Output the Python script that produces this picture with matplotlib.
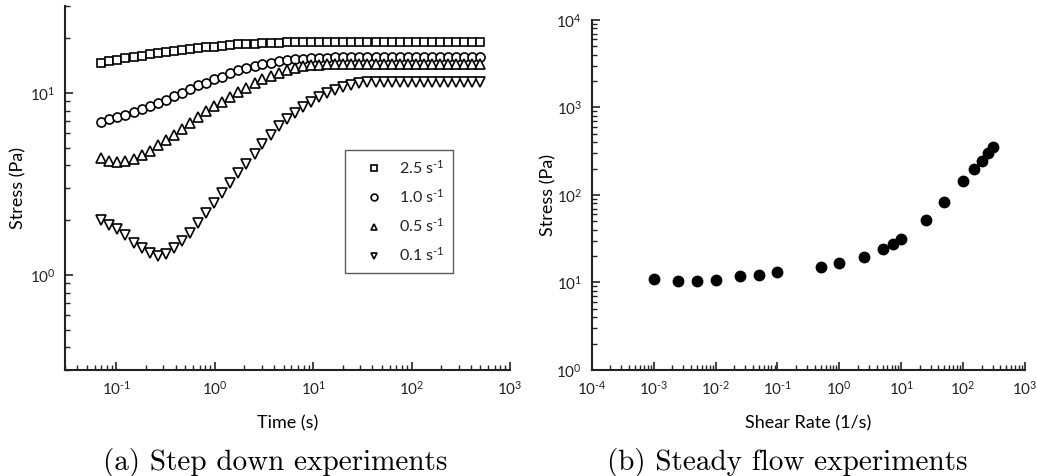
import matplotlib
matplotlib.use("Agg")
import numpy as np
import matplotlib.pyplot as plt
from matplotlib.ticker import LogLocator, NullFormatter, FixedLocator, FixedFormatter

plt.rcParams['font.family'] = ['Lato', 'DejaVu Sans']
plt.rcParams['mathtext.fontset'] = 'custom'
plt.rcParams['mathtext.rm'] = 'Lato'
plt.rcParams['mathtext.it'] = 'Lato:italic'
plt.rcParams['text.color'] = '#222222'

# step-down test: time (s) and stress (Pa) for each final shear rate
time_s = [0.0700, 0.0845, 0.102, 0.123, 0.149, 0.180, 0.217, 0.262, 0.317, 0.383,
          0.462, 0.558, 0.675, 0.815, 0.984, 1.19, 1.44, 1.73, 2.09, 2.53,
          3.05, 3.69, 4.46, 5.38, 6.50, 7.85, 9.48, 11.5, 13.8, 16.7,
          20.2, 24.4, 29.4, 35.6, 43.0, 51.9, 62.7, 75.7, 91.4, 110,
          133, 161, 195, 235, 284, 343, 414, 500]

stress_25 = [14.6, 14.9, 15.2, 15.5, 15.8, 16.0, 16.3, 16.6, 16.8, 17.1,
             17.3, 17.5, 17.7, 17.9, 18.0, 18.2, 18.3, 18.5, 18.6, 18.7,
             18.8, 18.9, 18.9, 19.0, 19.0, 19.0, 19.0, 19.1, 19.1, 19.1,
             19.1, 19.1, 19.1, 19.1, 19.1, 19.1, 19.1, 19.1, 19.1, 19.1,
             19.1, 19.1, 19.1, 19.1, 19.1, 19.1, 19.1, 19.1]

stress_10 = [6.95, 7.2, 7.4, 7.6, 7.9, 8.2, 8.5, 8.8, 9.2, 9.6,
             10.0, 10.5, 11.0, 11.4, 11.9, 12.3, 12.8, 13.3, 13.7, 14.1,
             14.4, 14.7, 14.9, 15.1, 15.3, 15.4, 15.5, 15.6, 15.6, 15.7,
             15.7, 15.7, 15.7, 15.7, 15.7, 15.7, 15.7, 15.7, 15.7, 15.7,
             15.7, 15.7, 15.7, 15.7, 15.7, 15.7, 15.7, 15.7]

stress_05 = [4.38, 4.25, 4.20, 4.23, 4.33, 4.55, 4.82, 5.16, 5.52, 5.90,
             6.35, 6.85, 7.4, 7.95, 8.5, 8.9, 9.5, 10.1, 10.7, 11.3,
             11.9, 12.4, 12.8, 13.3, 13.7, 14.0, 14.2, 14.3, 14.4, 14.4,
             14.5, 14.5, 14.5, 14.5, 14.5, 14.5, 14.5, 14.5, 14.5, 14.5,
             14.5, 14.5, 14.5, 14.5, 14.5, 14.5, 14.5, 14.5]

stress_01 = [2.00, 1.89, 1.78, 1.65, 1.50, 1.40, 1.32, 1.27, 1.30, 1.41,
             1.54, 1.70, 1.92, 2.18, 2.47, 2.82, 3.22, 3.64, 4.05, 4.63,
             5.25, 5.86, 6.55, 7.17, 7.75, 8.34, 8.94, 9.52, 10.0, 10.45,
             10.8, 11.08, 11.33, 11.45, 11.5, 11.5, 11.5, 11.5, 11.5, 11.5,
             11.5, 11.5, 11.5, 11.5, 11.5, 11.5, 11.5, 11.5]

step_labels = [r'2.5 s$^{\text{-}1}$', r'1.0 s$^{\text{-}1}$',
               r'0.5 s$^{\text{-}1}$', r'0.1 s$^{\text{-}1}$']
step_markers = ['s', 'o', '^', 'v']

# steady flow curve
shear_rate = [0.001, 0.0025, 0.005, 0.01, 0.025, 0.05, 0.1, 0.5, 1.0, 2.5,
              5, 7.5, 10, 25, 50, 100, 150, 200, 250, 300]
flow_stress = [10.9, 10.4, 10.4, 10.8, 11.8, 12.2, 13.1, 15.0, 16.6, 19.6,
               23.9, 27.8, 31.4, 51.8, 83.2, 145, 198, 247, 302, 357]


def pow_label(e):
    if e < 0:
        return r'$10^{\text{-}%d}$' % -e
    return r'$10^{%d}$' % e


def style_axes(ax):
    for side in ['top', 'right']:
        ax.spines[side].set_visible(False)
    for side in ['left', 'bottom']:
        ax.spines[side].set_linewidth(1.5)
        ax.spines[side].set_color('#222222')
    ax.tick_params(which='major', direction='in', length=6, width=1.2,
                   labelsize=11, colors='#222222', pad=7)
    ax.tick_params(which='minor', direction='in', length=3.5, width=1.0,
                   colors='#222222')
    ax.xaxis.set_minor_locator(LogLocator(base=10, subs=np.arange(2, 10), numticks=20))
    ax.yaxis.set_minor_locator(LogLocator(base=10, subs=np.arange(2, 10), numticks=20))
    ax.xaxis.set_minor_formatter(NullFormatter())
    ax.yaxis.set_minor_formatter(NullFormatter())


fig = plt.figure(figsize=(10.37, 4.76), dpi=100)

# (a) step down
ax1 = fig.add_axes([0.0627, 0.2227, 0.4291, 0.7643])
series = [stress_25, stress_10, stress_05, stress_01]
for vals, mk, lab in zip(series, step_markers, step_labels):
    ax1.plot(time_s, vals, linestyle='none', marker=mk, markersize=6.5 if mk != 's' else 5.8,
             markerfacecolor='white', markeredgecolor='black', markeredgewidth=1.2,
             label=lab)
ax1.set_xscale('log')
ax1.set_yscale('log')
ax1.set_xlim(0.03, 1000)
ax1.set_ylim(0.3, 30)
style_axes(ax1)
ax1.xaxis.set_major_locator(FixedLocator([0.1, 1, 10, 100, 1000]))
ax1.xaxis.set_major_formatter(FixedFormatter([pow_label(e) for e in [-1, 0, 1, 2, 3]]))
ax1.yaxis.set_major_locator(FixedLocator([1, 10]))
ax1.yaxis.set_major_formatter(FixedFormatter([pow_label(e) for e in [0, 1]]))
ax1.set_xlabel('Time (s)', fontsize=13, labelpad=13)
ax1.set_ylabel('Stress (Pa)', fontsize=13, labelpad=2)
leg = ax1.legend(loc='upper left', bbox_to_anchor=(0.629, 0.604), fontsize=11.5,
                 frameon=True, fancybox=False, edgecolor='#333333', markerscale=0.75,
                 handlelength=2.5, handletextpad=0.35, labelspacing=0.7,
                 borderpad=0.55, borderaxespad=0)
leg.get_frame().set_linewidth(1.0)

# (b) steady flow
ax2 = fig.add_axes([0.5706, 0.2227, 0.4178, 0.7353])
ax2.plot(shear_rate, flow_stress, linestyle='none', marker='o', markersize=7.5,
         color='black')
ax2.set_xscale('log')
ax2.set_yscale('log')
ax2.set_xlim(1e-4, 1e3)
ax2.set_ylim(1, 1e4)
style_axes(ax2)
ax2.xaxis.set_major_locator(FixedLocator([10.0 ** e for e in range(-4, 4)]))
ax2.xaxis.set_major_formatter(FixedFormatter([pow_label(e) for e in range(-4, 4)]))
ax2.yaxis.set_major_locator(FixedLocator([10.0 ** e for e in range(0, 5)]))
ax2.yaxis.set_major_formatter(FixedFormatter([pow_label(e) for e in range(0, 5)]))
ax2.set_xlabel('Shear Rate (1/s)', fontsize=13, labelpad=13)
ax2.set_ylabel('Stress (Pa)', fontsize=13, labelpad=0)

fig.text(0.2652, 0.029, '(a) Step down experiments', family='cmr10', fontsize=21,
         ha='center', va='center', color='black')
fig.text(0.7590, 0.029, '(b) Steady flow experiments', family='cmr10', fontsize=21,
         ha='center', va='center', color='black')

fig.savefig('out.png', dpi=100)
